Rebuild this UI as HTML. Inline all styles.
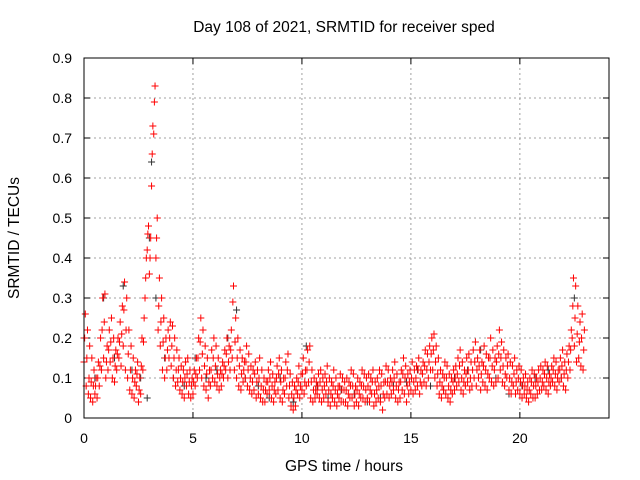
<!DOCTYPE html>
<html><head><meta charset="utf-8"><style>
html,body{margin:0;padding:0;background:#fff;}
svg{display:block;font-family:"Liberation Sans",sans-serif;}
</style></head><body>
<svg id="chart" width="640" height="480" viewBox="0 0 640 480">
<rect width="640" height="480" fill="#fff"/>
<text x="344" y="32" text-anchor="middle" font-size="15.5">Day 108 of 2021, SRMTID for receiver sped</text>
<text x="0" y="0" transform="translate(19,238) rotate(-90)" text-anchor="middle" font-size="15.5">SRMTID / TECUs</text>
<text x="344" y="471" text-anchor="middle" font-size="15.5">GPS time / hours</text>
<g id="grid"></g>
<g id="axes"></g>
<g id="black"></g>
<g id="red"></g>
<rect x="84" y="58" width="525" height="360" fill="none" stroke="#000" stroke-width="1"/>
</svg>
<script>
const xTicks = [0,5,10,15,20];
const yTicks = [0,0.1,0.2,0.3,0.4,0.5,0.6,0.7,0.8,0.9];
const yTickLabels = ["0","0.1","0.2","0.3","0.4","0.5","0.6","0.7","0.8","0.9"];
const redStartHour = 0;
const redStep = 0.1;
const redA = [
.26,.22,.18,.15,.12,.10,.14,.20,.30,.31,
.18,.22,.25,.20,.17,.20,.24,.28,.34,.30,
.22,.18,.15,.12,.14,.10,.20,.25,.40,.48,
.45,.73,.83,.50,.35,.30,.25,.20,.22,.24,
.23,.20,.17,.15,.13,.12,.14,.15,.12,.10,
.12,.15,.20,.25,.22,.18,.15,.12,.17,.20,
.18,.15,.12,.14,.17,.20,.18,.22,.33,.25,
.20,.17,.15,.14,.18,.16,.13,.12,.14,.12,
.15,.12,.10,.09,.12,.14,.11,.09,.13,.15,
.12,.10,.14,.16,.11,.09,.08,.10,.13,.11,
.15,.12,.17,.18,.12,.10,.09,.11,.12,.10,
.11,.13,.10,.09,.12,.10,.08,.11,.10,.09,
.10,.09,.12,.11,.08,.10,.09,.12,.11,.10,
.11,.10,.12,.09,.10,.12,.11,.09,.13,.12,
.10,.12,.14,.11,.09,.12,.15,.13,.11,.12,
.14,.12,.13,.15,.12,.14,.17,.16,.18,.20,
.21,.18,.15,.12,.11,.14,.13,.11,.10,.12,
.13,.15,.17,.14,.12,.15,.16,.14,.17,.19,
.15,.17,.14,.18,.16,.15,.20,.17,.15,.18,
.22,.19,.17,.15,.16,.14,.13,.15,.12,.13,
.12,.10,.11,.09,.10,.12,.11,.10,.12,.13,
.12,.14,.13,.11,.13,.15,.14,.12,.15,.17,
.14,.16,.18,.22,.35,.33,.28,.24,.26,.22];
const redB = [
.14,.08,.06,.05,.04,.06,.05,.08,.12,.15,
.10,.12,.14,.10,.09,.12,.15,.13,.18,.12,
.10,.07,.06,.05,.08,.04,.06,.12,.30,.42,
.36,.58,.71,.40,.22,.18,.12,.10,.12,.15,
.13,.10,.08,.09,.07,.06,.05,.08,.06,.05,
.06,.08,.10,.12,.10,.08,.07,.05,.08,.10,
.09,.08,.07,.08,.10,.12,.10,.12,.15,.12,
.10,.08,.07,.09,.10,.08,.07,.06,.07,.05,
.06,.05,.04,.04,.06,.07,.05,.04,.06,.07,
.05,.04,.06,.08,.05,.03,.02,.03,.06,.05,
.07,.06,.08,.09,.05,.04,.05,.06,.05,.04,
.05,.06,.04,.03,.05,.04,.03,.05,.04,.04,
.04,.03,.05,.05,.03,.04,.03,.05,.05,.04,
.05,.04,.06,.03,.04,.05,.04,.02,.05,.06,
.05,.06,.07,.05,.04,.05,.07,.06,.04,.06,
.07,.06,.07,.08,.06,.08,.09,.08,.10,.12,
.12,.10,.08,.06,.05,.07,.06,.05,.04,.06,
.07,.08,.09,.07,.06,.08,.09,.07,.08,.10,
.08,.10,.07,.09,.08,.07,.10,.09,.08,.09,
.10,.12,.09,.08,.10,.07,.06,.08,.06,.07,
.06,.05,.06,.05,.04,.06,.05,.05,.06,.07,
.07,.08,.07,.06,.08,.09,.08,.07,.09,.10,
.08,.07,.10,.12,.20,.18,.14,.15,.13,.12];
const redC = [
.20,.15,.10,.09,.08,.08,.10,.13,.22,.24,
.14,.17,.19,.15,.13,.16,.19,.21,.27,.22,
.16,.12,.10,.09,.11,.07,.13,.19,.35,.46,
.40,.66,.79,.45,.28,.24,.19,.15,.17,.20,
.18,.15,.12,.12,.10,.09,.10,.11,.09,.08,
.09,.11,.15,.19,.16,.13,.11,.09,.12,.15,
.13,.11,.10,.11,.13,.16,.14,.17,.29,.19,
.15,.13,.11,.12,.14,.12,.10,.09,.11,.09,
.10,.08,.07,.07,.09,.10,.08,.07,.10,.11,
.09,.07,.10,.12,.08,.06,.05,.07,.09,.08,
.11,.09,.12,.14,.09,.07,.07,.08,.09,.07,
.08,.09,.07,.06,.08,.07,.06,.08,.07,.07,
.07,.06,.08,.08,.06,.07,.06,.08,.08,.07,
.08,.07,.09,.06,.07,.08,.08,.06,.09,.09,
.08,.09,.10,.08,.07,.09,.11,.10,.08,.09,
.10,.09,.10,.12,.09,.11,.13,.12,.14,.16,
.17,.14,.11,.09,.08,.10,.10,.08,.07,.09,
.10,.11,.13,.10,.09,.11,.12,.10,.12,.14,
.12,.13,.11,.13,.12,.11,.15,.13,.12,.14,
.16,.15,.13,.11,.13,.10,.09,.11,.09,.10,
.09,.08,.08,.07,.07,.09,.08,.08,.09,.10,
.09,.11,.10,.09,.10,.12,.11,.10,.12,.13,
.11,.12,.14,.17,.28,.25,.21,.19,.20,.17];
const blackT = [0.0,0.5,0.9,1.4,1.8,2.2,2.6,2.9,3.0,3.1,3.3,3.7,4.1,4.6,5.1,5.6,6.1,6.6,7.0,7.4,8.0,8.5,9.0,9.6,10.2,10.7,11.2,11.8,12.4,13.0,13.6,14.2,14.8,15.3,15.9,16.5,17.0,17.6,18.2,18.9,19.5,20.1,20.7,21.3,21.9,22.5];
const blackV = [0.20,0.10,0.30,0.15,0.33,0.12,0.10,0.05,0.45,0.64,0.30,0.15,0.10,0.08,0.15,0.10,0.12,0.20,0.27,0.10,0.08,0.05,0.10,0.04,0.18,0.08,0.05,0.07,0.06,0.04,0.05,0.08,0.09,0.12,0.08,0.07,0.10,0.12,0.17,0.10,0.06,0.08,0.10,0.12,0.10,0.30];

const X0=84, X1=609, Y0=418, Y1=58, XMAX=24.09, YMAX=0.9;
function sx(t){return X0+(X1-X0)*t/XMAX;}
function sy(v){return Y0-(Y0-Y1)*v/YMAX;}
const NS="http://www.w3.org/2000/svg";
function mk(tag,attrs,parent){const e=document.createElementNS(NS,tag);for(const k in attrs)e.setAttribute(k,attrs[k]);parent.appendChild(e);return e;}
const grid=document.getElementById('grid'), axes=document.getElementById('axes');
xTicks.forEach((t,i)=>{
  const x=sx(t);
  if(i>0){const g=mk('line',{x1:x,x2:x,y1:Y1,y2:Y0,stroke:'#a0a0a0','stroke-dasharray':'2,3'},grid);
  
  }
  mk('line',{x1:x,x2:x,y1:Y0,y2:Y0-6,stroke:'#000'},axes);
  mk('line',{x1:x,x2:x,y1:Y1,y2:Y1+6,stroke:'#000'},axes);
  const l=mk('text',{x:x,y:443,'text-anchor':'middle','font-size':'14'},axes);
  l.textContent=String(t);
  
  
});
yTicks.forEach((v,i)=>{
  const y=sy(v);
  if(i>0&&i<yTicks.length-1){const g=mk('line',{x1:X0,x2:X1,y1:y,y2:y,stroke:'#a0a0a0','stroke-dasharray':'2,3'},grid);
  
  }
  mk('line',{x1:X0,x2:X0+6,y1:y,y2:y,stroke:'#000'},axes);
  mk('line',{x1:X1,x2:X1-6,y1:y,y2:y,stroke:'#000'},axes);
  const l=mk('text',{x:72,y:y+5,'text-anchor':'end','font-size':'14'},axes);
  l.textContent=yTickLabels[i];
  
  
});
function plus(g,t,v,color,name){
  const x=sx(t), y=sy(v);
  const p=mk('path',{d:`M${x-3.5},${y}h7M${x},${y-3.5}v7`,stroke:color,'stroke-width':1,fill:'none'},g);
  
  
}
const bg=document.getElementById('black'), rg=document.getElementById('red');
blackT.forEach((t,i)=>plus(bg,t,blackV[i],'#333','black-point'));
redB.forEach((v,i)=>plus(rg,redStartHour+i*redStep,v,'#ff0000','red-point'));
redC.forEach((v,i)=>plus(rg,redStartHour+i*redStep+0.03,v,'#ff0000','red-point'));
redA.forEach((v,i)=>plus(rg,redStartHour+i*redStep+0.06,v,'#ff0000','red-point'));
</script>
</body></html>
